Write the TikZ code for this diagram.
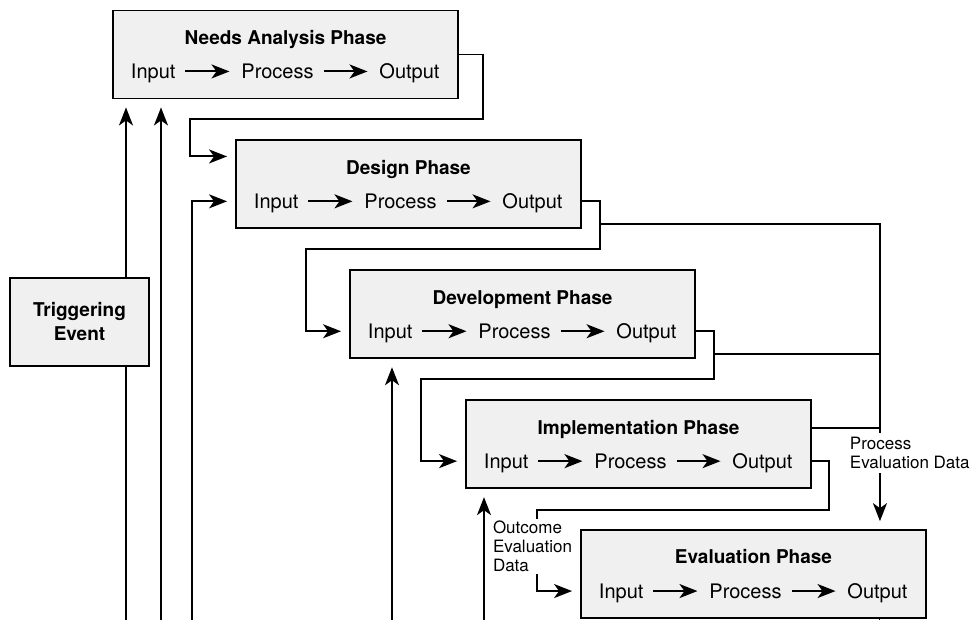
\documentclass[tikz,border=0pt]{standalone}
\usepackage{fontspec}
\setmainfont{TeX Gyre Heros}
\usetikzlibrary{positioning,arrows.meta}

\begin{document}
\begin{tikzpicture}[x=1pt, y=-1pt, line width=1.9pt, >={Stealth[length=18pt,width=14pt,inset=5pt]},
	phase/.style={rectangle, draw, fill=gray!12, minimum width=345pt, minimum height=88pt, inner sep=0pt},
	title/.style={font=\fontsize{19}{22}\selectfont\bfseries, inner sep=0pt, text height=13.6pt, text depth=0pt},
	word/.style={font=\fontsize{20}{24}\selectfont, inner sep=0pt, text height=14.4pt, text depth=0pt, node distance=64pt},
	conn/.style={->, shorten >=8pt},
	flow/.style={->, shorten <=9pt, shorten >=11pt},
	note/.style={font=\fontsize{17}{19}\selectfont, align=left, fill=white, inner sep=2pt}]
	\useasboundingbox (0,0) rectangle (973,620);

	% phases
	\node[phase] (needs) at (285.5,54.5) {};
	\node[phase] (design) [below=40pt of needs, xshift=123pt] {};
	\node[phase] (devel) [below=40pt of design, xshift=114pt] {};
	\node[phase] (impl) [below=40pt of devel, xshift=116pt] {};
	\node[phase] (eval) [below=40pt of impl, xshift=115pt] {};
	\node[phase, minimum width=139pt, align=center, font=\fontsize{19}{24}\selectfont\bfseries] (trig) at (79.5,322) {Triggering\\Event};

	\foreach \p/\t in {needs/Needs Analysis Phase, design/Design Phase, devel/Development Phase, impl/Implementation Phase, eval/Evaluation Phase}{
		\node[title] (\p-t) at ([yshift=-28pt]\p.north) {\t};
		\node[word] (\p-pr) at ([xshift=-8pt,yshift=28pt]\p.south) {Process};
		\node[word, left=of \p-pr] (\p-in) {Input};
		\node[word, right=of \p-pr] (\p-out) {Output};
		\draw[flow] (\p-in) -- (\p-pr);
		\draw[flow] (\p-pr) -- (\p-out);
	}

	\coordinate (pe) at ([xshift=-47pt]eval.north east);
	\coordinate (d-br) at ([xshift=18pt,yshift=5pt]design.south east);
	\coordinate (v-br) at ([xshift=18pt,yshift=5pt]devel.south east);
	\coordinate (i-br) at ([yshift=-29pt]impl.north east);
	\coordinate (fb1) at (126,620);
	\coordinate (fb2) at (161,620);
	\coordinate (fb3) at (192,620);
	\coordinate (fb4) at (392,620);
	\coordinate (fb5) at (484,620);
	\coordinate (fb6) at (879.5,620);

	% output of one phase into the next
	\draw[conn] (needs.east) -- ++(24,0) |- ([xshift=-45pt,yshift=20pt]design.north west) |- ([yshift=-17pt]design.north west);
	\draw[conn] (design-out -| design.east) -- ++(18,0) |- ([xshift=-43pt,yshift=20pt]devel.north west) |- (devel-in -| devel.west);
	\draw[conn] (devel-out -| devel.east) -- ++(18,0) |- ([xshift=-44pt,yshift=20pt]impl.north west) |- (impl-in -| impl.west);
	\draw[conn] (impl-out -| impl.east) -- ++(17,0) |- ([xshift=-43pt,yshift=19pt]eval.north west) |- (eval-in -| eval.west);
	\node[note, anchor=west] (oe-lab) at ([xshift=-90pt,yshift=28pt]eval.west) {Outcome\\Evaluation\\Data};

	% process evaluation data
	\draw[conn] (d-br) -| (pe);
	\draw (v-br) -- (v-br -| pe);
	\draw (i-br) -- (i-br -| pe);
	\node[note, inner sep=4pt, anchor=west] (pe-lab) at ([xshift=-35pt,yshift=76pt]pe) {Process\\Evaluation Data};

	% lines from below
	\draw[conn] (trig.north -| fb1) -- (fb1 |- needs.south);
	\draw (fb1) -- (fb1 |- trig.south);
	\draw[conn] (fb2) -- (fb2 |- needs.south);
	\draw[conn] (fb3) |- (design-in -| design.west);
	\draw[conn] (fb4) -- (fb4 |- devel.south);
	\draw[conn] (fb5) -- (fb5 |- impl.south);
	\draw (fb6 |- eval.south) -- (fb6);
\end{tikzpicture}
\end{document}
